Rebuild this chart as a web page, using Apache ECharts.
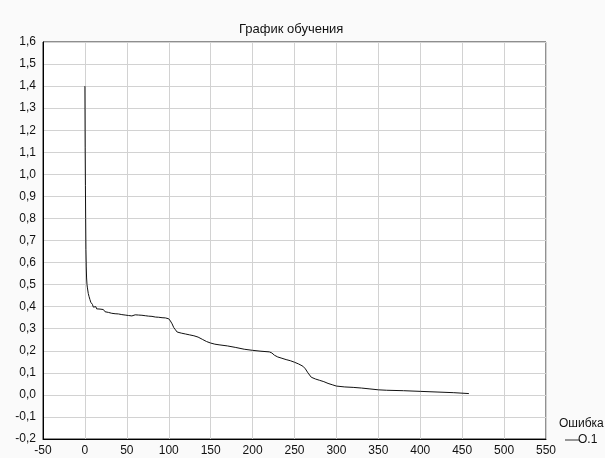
<!DOCTYPE html>
<html>
<head>
<meta charset="utf-8">
<script src="https://cdn.jsdelivr.net/npm/echarts@6/dist/echarts.min.js"></script>
<style>
html,body{margin:0;padding:0;background:#fafafa;}
#c{width:605px;height:458px;}
</style>
</head>
<body>
<div id="c"></div>
<script>
const titleText = "График обучения";
const seriesName = "O.1";
const legendTitle = "Ошибка";
const xTicks = [-50, 550, 50];
const yTicks = [-0.2, 1.6, 0.1];

const epochs = [0, 0.3, 0.6, 0.9, 1.2, 1.6, 2, 2.5, 3, 4, 5, 6, 7, 8, 9, 10, 11, 12, 13, 14, 15, 16, 18, 20, 22, 24, 26, 28, 30, 32, 34, 36, 38, 40, 42, 44, 46, 48, 50, 52, 54, 56, 58, 60, 62, 64, 66, 68, 70, 72, 74, 76, 78, 80, 82, 84, 86, 88, 90, 92, 94, 96, 98, 100, 102, 104, 106, 108, 110, 115, 120, 125, 130, 135, 140, 145, 150, 155, 160, 170, 180, 190, 200, 210, 220, 223, 226, 230, 235, 240, 245, 250, 255, 260, 263, 266, 270, 275, 280, 285, 290, 295, 300, 310, 320, 330, 340, 350, 360, 380, 400, 420, 440, 458];
const errors = [1.40, 1.12, 0.95, 0.80, 0.66, 0.58, 0.53, 0.50, 0.485, 0.46, 0.445, 0.432, 0.42, 0.412, 0.41, 0.398, 0.405, 0.392, 0.40, 0.390, 0.396, 0.386, 0.389, 0.381, 0.387, 0.377, 0.383, 0.374, 0.380, 0.370, 0.377, 0.368, 0.375, 0.367, 0.373, 0.364, 0.371, 0.362, 0.369, 0.360, 0.368, 0.358, 0.365, 0.363, 0.354, 0.362, 0.355, 0.361, 0.352, 0.359, 0.351, 0.357, 0.349, 0.356, 0.348, 0.353, 0.347, 0.352, 0.345, 0.350, 0.344, 0.349, 0.343, 0.345, 0.335, 0.322, 0.305, 0.295, 0.285, 0.280, 0.276, 0.272, 0.268, 0.262, 0.252, 0.242, 0.235, 0.230, 0.227, 0.222, 0.215, 0.207, 0.202, 0.198, 0.195, 0.19, 0.18, 0.172, 0.166, 0.16, 0.155, 0.148, 0.14, 0.13, 0.118, 0.10, 0.08, 0.072, 0.066, 0.06, 0.052, 0.046, 0.04, 0.036, 0.034, 0.031, 0.027, 0.023, 0.021, 0.019, 0.016, 0.013, 0.010, 0.006];

const data = epochs.map((x, i) => [x, errors[i]]);
const font = "'Liberation Sans', Arial, sans-serif";

const chart = echarts.init(document.getElementById('c'), null, {renderer: 'canvas'});
chart.setOption({
  backgroundColor: '#fafafa',
  animation: false,
  color: ['#111'],
  title: {
    text: titleText,
    left: 234, top: 18,
    textStyle: {fontFamily: font, fontSize: 13, fontWeight: 'normal', color: '#111'}
  },
  grid: {
    left: 43, top: 42, right: 59, bottom: 19,
    show: true, backgroundColor: '#ffffff', borderColor: '#222', borderWidth: 1
  },
  legend: {
    left: 560, top: 429,
    itemWidth: 14, itemHeight: 10, itemGap: 4,
    textStyle: {fontFamily: font, fontSize: 12, color: '#111', padding: [0, 0, 0, -6]},
    data: [{name: seriesName, icon: 'path://M0,5L14,5L14,6L0,6Z', itemStyle: {color: '#333'}}]
  },
  graphic: [{
    type: 'text', left: 559, top: 418,
    style: {text: legendTitle, font: '12px ' + font, fill: '#111'}
  }],
  xAxis: {
    type: 'value', min: xTicks[0], max: xTicks[1], interval: xTicks[2],
    axisLine: {show: true, onZero: false, lineStyle: {color: '#000', width: 1}},
    axisTick: {show: false},
    axisLabel: {fontFamily: font, fontSize: 12, color: '#111', margin: 6},
    splitLine: {show: true, lineStyle: {color: '#d2d2d2', width: 1}}
  },
  yAxis: {
    type: 'value', min: yTicks[0], max: yTicks[1], interval: yTicks[2],
    axisLine: {show: true, onZero: false, lineStyle: {color: '#000', width: 1}},
    axisTick: {show: false},
    axisLabel: {
      fontFamily: font, fontSize: 12, color: '#111', margin: 7,
      formatter: v => v.toFixed(1).replace('.', ',')
    },
    splitLine: {show: true, lineStyle: {color: '#d2d2d2', width: 1}}
  },
  series: [{
    name: seriesName, type: 'line', data: data,
    showSymbol: false, symbol: 'none',
    itemStyle: {color: '#111'},
    lineStyle: {color: '#111', width: 1}
  }]
});
</script>
</body>
</html>
